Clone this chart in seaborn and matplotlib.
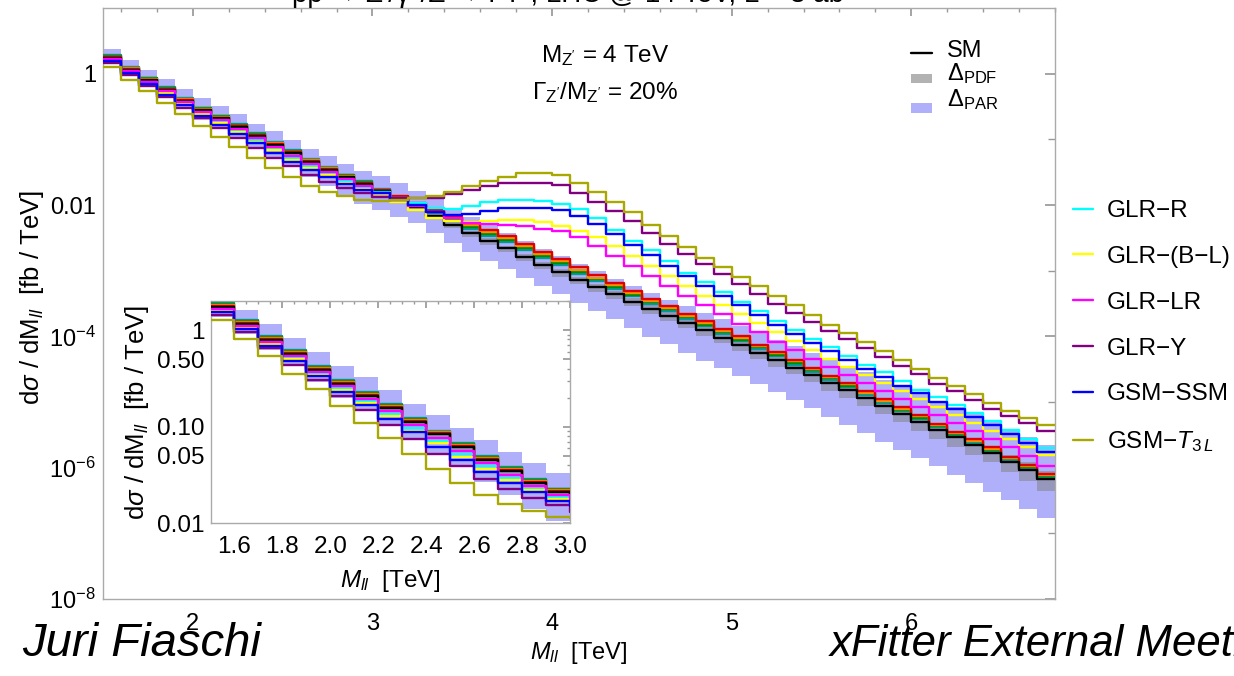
import numpy as np
import matplotlib
matplotlib.use("Agg")
import matplotlib.pyplot as plt
import seaborn as sns
from matplotlib.lines import Line2D
from matplotlib.patches import Rectangle
from matplotlib.ticker import FixedLocator, FixedFormatter, NullFormatter, MultipleLocator, LogLocator

# ---------------- data (log10 of dsigma/dM in fb/TeV, bins of 0.1 TeV from 1.5 to 6.8) -------------
bin_edges = np.round(np.linspace(1.5, 6.8, 54), 2)

sm_log10 = [0.24, 0.06, -0.10, -0.25, -0.41, -0.56, -0.68, -0.81, -0.95, -1.08, -1.21, -1.34, -1.46, -1.58, -1.68,
            -1.79, -1.91, -2.03, -2.16, -2.30, -2.43, -2.55, -2.66, -2.79, -2.91, -3.02, -3.14, -3.25, -3.36, -3.47,
            -3.58, -3.69, -3.80, -3.91, -4.02, -4.13, -4.25, -4.36, -4.48, -4.59, -4.71, -4.82, -4.94, -5.06, -5.18,
            -5.30, -5.42, -5.54, -5.66, -5.78, -5.91, -6.04, -6.17]
glr_r_log10 = [0.21, 0.03, -0.13, -0.29, -0.45, -0.60, -0.73, -0.87, -1.01, -1.15, -1.28, -1.41, -1.53, -1.64, -1.73,
               -1.80, -1.89, -1.97, -2.05, -2.06, -2.01, -1.95, -1.93, -1.93, -1.94, -1.98, -2.06, -2.20, -2.38, -2.55,
               -2.69, -2.86, -3.03, -3.18, -3.33, -3.47, -3.61, -3.77, -3.90, -4.04, -4.17, -4.30, -4.43, -4.55, -4.68,
               -4.81, -4.93, -5.04, -5.16, -5.29, -5.43, -5.56, -5.70]
glr_bl_log10 = [0.20, 0.02, -0.14, -0.30, -0.46, -0.62, -0.75, -0.89, -1.04, -1.17, -1.31, -1.44, -1.55, -1.66, -1.75,
                -1.84, -1.96, -2.08, -2.20, -2.24, -2.26, -2.25, -2.23, -2.23, -2.26, -2.32, -2.39, -2.48, -2.62, -2.77,
                -2.93, -3.08, -3.23, -3.38, -3.52, -3.66, -3.80, -3.93, -4.07, -4.21, -4.34, -4.47, -4.59, -4.71, -4.83,
                -4.95, -5.08, -5.20, -5.32, -5.44, -5.56, -5.69, -5.81]
glr_lr_log10 = [0.22, 0.04, -0.12, -0.27, -0.43, -0.58, -0.71, -0.84, -0.98, -1.12, -1.25, -1.38, -1.50, -1.61, -1.71,
                -1.81, -1.92, -2.02, -2.11, -2.20, -2.27, -2.29, -2.30, -2.32, -2.36, -2.39, -2.48, -2.62, -2.77, -2.93,
                -3.08, -3.23, -3.38, -3.52, -3.66, -3.81, -3.94, -4.08, -4.21, -4.34, -4.47, -4.59, -4.71, -4.84, -4.96,
                -5.08, -5.20, -5.32, -5.44, -5.56, -5.69, -5.82, -5.98]
glr_y_log10 = [0.16, -0.02, -0.19, -0.36, -0.52, -0.68, -0.83, -0.98, -1.13, -1.28, -1.41, -1.54, -1.65, -1.74, -1.81,
               -1.88, -1.90, -1.90, -1.89, -1.83, -1.77, -1.71, -1.67, -1.66, -1.66, -1.70, -1.81, -1.95, -2.09, -2.25,
               -2.42, -2.59, -2.75, -2.90, -3.05, -3.21, -3.36, -3.50, -3.64, -3.78, -3.92, -4.04, -4.18, -4.31, -4.45,
               -4.58, -4.72, -4.84, -4.97, -5.10, -5.21, -5.32, -5.44]
gsm_ssm_log10 = [0.19, 0.01, -0.16, -0.32, -0.48, -0.64, -0.78, -0.92, -1.06, -1.21, -1.34, -1.47, -1.58, -1.68, -1.77,
                 -1.82, -1.92, -2.00, -2.11, -2.15, -2.14, -2.09, -2.05, -2.04, -2.04, -2.08, -2.16, -2.29, -2.44, -2.61,
                 -2.76, -2.93, -3.08, -3.23, -3.38, -3.53, -3.67, -3.82, -3.96, -4.10, -4.23, -4.36, -4.49, -4.62, -4.75,
                 -4.87, -5.00, -5.11, -5.23, -5.35, -5.49, -5.63, -5.76]
gsm_t3l_log10 = [0.10, -0.09, -0.27, -0.45, -0.61, -0.79, -0.96, -1.12, -1.28, -1.44, -1.58, -1.71, -1.80, -1.87, -1.93,
                 -1.94, -1.92, -1.89, -1.86, -1.80, -1.71, -1.63, -1.57, -1.52, -1.51, -1.55, -1.66, -1.80, -1.95, -2.11,
                 -2.30, -2.47, -2.64, -2.80, -2.94, -3.09, -3.24, -3.38, -3.53, -3.67, -3.82, -3.95, -4.09, -4.22, -4.36,
                 -4.49, -4.63, -4.76, -4.88, -5.01, -5.13, -5.24, -5.35]
# further (unlabelled) models close to the SM
red_log10 = [0.25, 0.07, -0.09, -0.24, -0.40, -0.55, -0.67, -0.80, -0.94, -1.07, -1.20, -1.33, -1.45, -1.57, -1.67,
             -1.77, -1.87, -1.97, -2.07, -2.18, -2.28, -2.38, -2.47, -2.59, -2.71, -2.82, -2.95, -3.07, -3.19, -3.31,
             -3.43, -3.54, -3.66, -3.77, -3.89, -4.00, -4.13, -4.24, -4.36, -4.48, -4.60, -4.71, -4.84, -4.96, -5.08,
             -5.20, -5.33, -5.45, -5.57, -5.69, -5.83, -5.96, -6.09]
orange_log10 = [0.26, 0.08, -0.08, -0.23, -0.39, -0.54, -0.66, -0.79, -0.93, -1.06, -1.19, -1.32, -1.44, -1.56, -1.66,
                -1.77, -1.88, -1.98, -2.09, -2.20, -2.31, -2.41, -2.51, -2.63, -2.75, -2.86, -2.99, -3.11, -3.22, -3.34,
                -3.46, -3.57, -3.69, -3.80, -3.92, -4.03, -4.15, -4.26, -4.38, -4.50, -4.62, -4.73, -4.86, -4.98, -5.10,
                -5.22, -5.35, -5.47, -5.59, -5.71, -5.85, -5.98, -6.11]
green_log10 = [0.27, 0.09, -0.07, -0.22, -0.38, -0.53, -0.65, -0.78, -0.92, -1.05, -1.18, -1.31, -1.43, -1.55, -1.65,
               -1.77, -1.88, -1.99, -2.10, -2.22, -2.33, -2.44, -2.54, -2.66, -2.78, -2.89, -3.02, -3.13, -3.25, -3.37,
               -3.48, -3.59, -3.71, -3.82, -3.94, -4.05, -4.17, -4.28, -4.40, -4.52, -4.64, -4.75, -4.87, -4.99, -5.12,
               -5.24, -5.36, -5.48, -5.60, -5.73, -5.86, -5.99, -6.12]
teal_log10 = [0.28, 0.10, -0.06, -0.21, -0.37, -0.52, -0.64, -0.77, -0.91, -1.04, -1.17, -1.30, -1.42, -1.54, -1.64,
              -1.76, -1.88, -2.00, -2.12, -2.25, -2.36, -2.47, -2.57, -2.69, -2.81, -2.92, -3.05, -3.16, -3.28, -3.39,
              -3.51, -3.62, -3.73, -3.85, -3.96, -4.07, -4.19, -4.30, -4.43, -4.54, -4.66, -4.77, -4.89, -5.01, -5.14,
              -5.26, -5.38, -5.50, -5.62, -5.74, -5.88, -6.01, -6.14]
# uncertainty bands
pdf_lo_log10 = [0.22, 0.04, -0.12, -0.27, -0.43, -0.59, -0.71, -0.84, -0.98, -1.11, -1.25, -1.38, -1.50, -1.62, -1.72,
                -1.84, -1.96, -2.08, -2.21, -2.35, -2.49, -2.61, -2.72, -2.85, -2.97, -3.09, -3.21, -3.32, -3.43, -3.54,
                -3.66, -3.77, -3.88, -3.99, -4.10, -4.23, -4.35, -4.46, -4.58, -4.69, -4.83, -4.94, -5.06, -5.18, -5.30,
                -5.44, -5.56, -5.68, -5.80, -5.92, -6.07, -6.21, -6.35]
pdf_hi_log10 = [0.25, 0.07, -0.09, -0.24, -0.40, -0.54, -0.66, -0.79, -0.93, -1.06, -1.18, -1.31, -1.43, -1.55, -1.65,
                -1.75, -1.87, -1.99, -2.12, -2.26, -2.39, -2.51, -2.62, -2.75, -2.87, -2.97, -3.09, -3.20, -3.31, -3.42,
                -3.52, -3.63, -3.74, -3.85, -3.96, -4.06, -4.18, -4.29, -4.41, -4.52, -4.63, -4.74, -4.86, -4.98, -5.10,
                -5.20, -5.32, -5.44, -5.56, -5.68, -5.80, -5.92, -6.05]
par_lo_log10 = [0.14, -0.04, -0.21, -0.37, -0.54, -0.70, -0.84, -0.98, -1.13, -1.28, -1.42, -1.57, -1.71, -1.85, -1.98,
                -2.08, -2.18, -2.27, -2.42, -2.58, -2.72, -2.85, -2.97, -3.11, -3.23, -3.36, -3.49, -3.61, -3.74, -3.87,
                -4.01, -4.12, -4.25, -4.38, -4.48, -4.60, -4.73, -4.85, -4.97, -5.09, -5.23, -5.35, -5.47, -5.61, -5.73,
                -5.85, -5.98, -6.11, -6.24, -6.37, -6.49, -6.63, -6.77]
par_hi_log10 = [0.37, 0.21, 0.06, -0.08, -0.23, -0.37, -0.49, -0.62, -0.76, -0.88, -1.01, -1.14, -1.26, -1.38, -1.48,
                -1.56, -1.67, -1.79, -1.91, -2.05, -2.19, -2.31, -2.42, -2.55, -2.67, -2.78, -2.90, -3.01, -3.12, -3.23,
                -3.34, -3.44, -3.54, -3.64, -3.74, -3.84, -3.95, -4.05, -4.15, -4.25, -4.35, -4.45, -4.55, -4.66, -4.76,
                -4.87, -4.98, -5.08, -5.19, -5.30, -5.41, -5.53, -5.65]

model_labels = ["GLR\u2212R", "GLR\u2212(B\u2212L)", "GLR\u2212LR", "GLR\u2212Y", "GSM\u2212SSM", "GSM\u2212$T_{3\\,L}$"]
model_series = [glr_r_log10, glr_bl_log10, glr_lr_log10, glr_y_log10, gsm_ssm_log10, gsm_t3l_log10]
model_colors = ["#00ffff", "#ffff00", "#ff00ff", "#800080", "#0000ff", "#a8a800"]
extra_series = [teal_log10, green_log10, orange_log10, red_log10]
extra_colors = ["#009a9a", "#008c00", "#ff8c00", "#e00000"]

PAR_COLOR = "#b0b0fa"
PDF_COLOR = "#808080"

# ---------------- styling -------------
sns.set_theme(style="white")
plt.rcParams["font.family"] = ["Liberation Sans", "DejaVu Sans"]
plt.rcParams["mathtext.fontset"] = "custom"
plt.rcParams["mathtext.rm"] = "Liberation Sans"
plt.rcParams["mathtext.it"] = "Liberation Sans:italic"
plt.rcParams["mathtext.bf"] = "Liberation Sans:bold"
plt.rcParams["axes.edgecolor"] = "#aaaaaa"
plt.rcParams["axes.linewidth"] = 1.0
plt.rcParams["text.color"] = "black"
plt.rcParams["axes.labelcolor"] = "black"
plt.rcParams["xtick.color"] = "black"
plt.rcParams["ytick.color"] = "black"

W, H = 1234, 676
fig = plt.figure(figsize=(W / 100, H / 100), dpi=100)


def fx(px):
    return px / W


def fy(py):
    return 1 - py / H


ax = fig.add_axes([fx(103), fy(599), fx(1055 - 103), (599 - 8) / H])
ins = fig.add_axes([fx(210.5), fy(523.3), fx(570 - 210.5), (523.3 - 301) / H])


def ext(v):
    v = np.asarray(v, dtype=float)
    return 10 ** np.append(v, v[-1])


def draw(a, lw):
    a.fill_between(bin_edges, ext(par_lo_log10), ext(par_hi_log10), step="post",
                   color=PAR_COLOR, lw=0, zorder=1)
    a.fill_between(bin_edges, ext(pdf_lo_log10), ext(pdf_hi_log10), step="post",
                   color=PDF_COLOR, alpha=0.5, lw=0, zorder=2)
    for s, c in zip(extra_series, extra_colors):
        sns.lineplot(x=bin_edges, y=ext(s), drawstyle="steps-post", color=c, lw=lw, ax=a,
                     legend=False, estimator=None, zorder=3)
    sns.lineplot(x=bin_edges, y=ext(sm_log10), drawstyle="steps-post", color="black", lw=lw, ax=a,
                 legend=False, estimator=None, zorder=3)
    for s, c in zip(model_series, model_colors):
        sns.lineplot(x=bin_edges, y=ext(s), drawstyle="steps-post", color=c, lw=lw, ax=a,
                     legend=False, estimator=None, zorder=4)
    a.set_yscale("log")


draw(ax, 1.7)
draw(ins, 1.7)

# main axes
ax.set_xlim(1.5, 6.8)
ax.set_ylim(1e-8, 10)
ax.set_facecolor("white")
ax.xaxis.set_major_locator(FixedLocator([2, 3, 4, 5, 6]))
ax.xaxis.set_major_formatter(FixedFormatter(["2", "3", "4", "5", "6"]))
ax.xaxis.set_minor_locator(MultipleLocator(0.2))
ax.yaxis.set_major_locator(FixedLocator([1, 1e-2, 1e-4, 1e-6, 1e-8]))
ax.yaxis.set_major_formatter(FixedFormatter(["1", "0.01", "$10^{-4}$", "$10^{-6}$", "$10^{-8}$"]))
ax.yaxis.set_minor_locator(FixedLocator([1e-1, 1e-3, 1e-5, 1e-7]))
ax.yaxis.set_minor_formatter(NullFormatter())
ax.tick_params(which="both", direction="in", top=True, right=True, color="#999999", labelcolor="black")
ax.tick_params(axis="x", which="major", length=6, labelsize=17, pad=10)
ax.tick_params(axis="x", which="minor", length=3)
ax.tick_params(axis="y", which="major", length=7, labelsize=17, pad=5)
ax.tick_params(axis="y", which="minor", length=5)
ax.set_xlabel("$M_{ll}$  [TeV]", fontsize=17)
ax.xaxis.set_label_coords(0.5, -0.07)
ax.set_ylabel("d$\\sigma$ / dM$_{ll}$  [fb / TeV]", fontsize=18.5)
ax.yaxis.set_label_coords(-0.06, 0.51)

# inset
ins.set_zorder(5)
ins.set_facecolor("white")
ins.set_xlim(1.5, 3.0)
ins.set_ylim(0.01, 2.0)
ins.xaxis.set_major_locator(FixedLocator([1.6, 1.8, 2.0, 2.2, 2.4, 2.6, 2.8, 3.0]))
ins.xaxis.set_major_formatter(FixedFormatter(["1.6", "1.8", "2.0", "2.2", "2.4", "2.6", "2.8", "3.0"]))
ins.xaxis.set_minor_locator(MultipleLocator(0.05))
ins.yaxis.set_major_locator(FixedLocator([0.01, 0.05, 0.1, 0.5, 1]))
ins.yaxis.set_major_formatter(FixedFormatter(["0.01", "0.05", "0.10", "0.50", "1"]))
ins.yaxis.set_minor_locator(LogLocator(base=10, subs=np.arange(2, 10)))
ins.yaxis.set_minor_formatter(NullFormatter())
ins.tick_params(which="both", direction="in", top=True, right=True, color="#999999", labelcolor="black")
ins.tick_params(which="major", length=5, labelsize=17.5)
ins.tick_params(which="minor", length=2.5)
ins.tick_params(axis="x", which="major", pad=9)
ins.tick_params(axis="y", which="major", pad=4)
ins.set_xlabel("$M_{ll}$  [TeV]", fontsize=17.5)
ins.xaxis.set_label_coords(0.5, -0.2)
ins.set_ylabel("d$\\sigma$ / dM$_{ll}$  [fb / TeV]", fontsize=18.5)
ins.yaxis.set_label_coords(-0.165, 0.5)

# annotations
fig.text(fx(605), fy(62), "M$_{\\mathrm{Z'}}$ = 4 TeV", fontsize=17.5, ha="center", va="baseline")
fig.text(fx(605), fy(99), "$\\Gamma_{\\mathrm{Z'}}$/M$_{\\mathrm{Z'}}$ = 20%", fontsize=17.5, ha="center", va="baseline")

# SM / band legend (top right inside)
fig.add_artist(Line2D([fx(911), fx(932)], [fy(53), fy(53)], color="black", lw=1.7))
fig.add_artist(Rectangle((fx(911), fy(83)), fx(21), 9 / H, color=PDF_COLOR, alpha=0.6, lw=0))
fig.add_artist(Rectangle((fx(911), fy(113)), fx(21), 10 / H, color=PAR_COLOR, lw=0))
fig.text(fx(947), fy(57), "SM", fontsize=17, va="baseline")
fig.text(fx(947), fy(80), "$\\Delta_{\\mathrm{PDF}}$", fontsize=17, va="baseline")
fig.text(fx(947), fy(106), "$\\Delta_{\\mathrm{PAR}}$", fontsize=17, va="baseline")

# model legend (outside, right)
handles = [Line2D([], [], color=c, lw=1.7) for c in model_colors]
fig.legend(handles, model_labels, loc="upper left", bbox_to_anchor=(fx(1073), fy(200)),
           frameon=False, fontsize=17.5, handlelength=0.82, handletextpad=0.58, labelspacing=0.98,
           borderaxespad=0, borderpad=0)

# slide decorations
fig.text(fx(22), fy(656), "Juri Fiaschi", fontsize=34, style="italic", va="baseline")
fig.text(fx(830), fy(656), "xFitter External Meeting", fontsize=31.5, style="italic", va="baseline")
fig.text(fx(580), fy(2), "pp \u2192 Z'/\u03b3*/Z \u2192 l\u207al\u207b, LHC @ 14 TeV, L = 3 ab\u207b\u00b9",
         fontsize=20, ha="center", va="baseline")

fig.savefig("out.png", dpi=100)
